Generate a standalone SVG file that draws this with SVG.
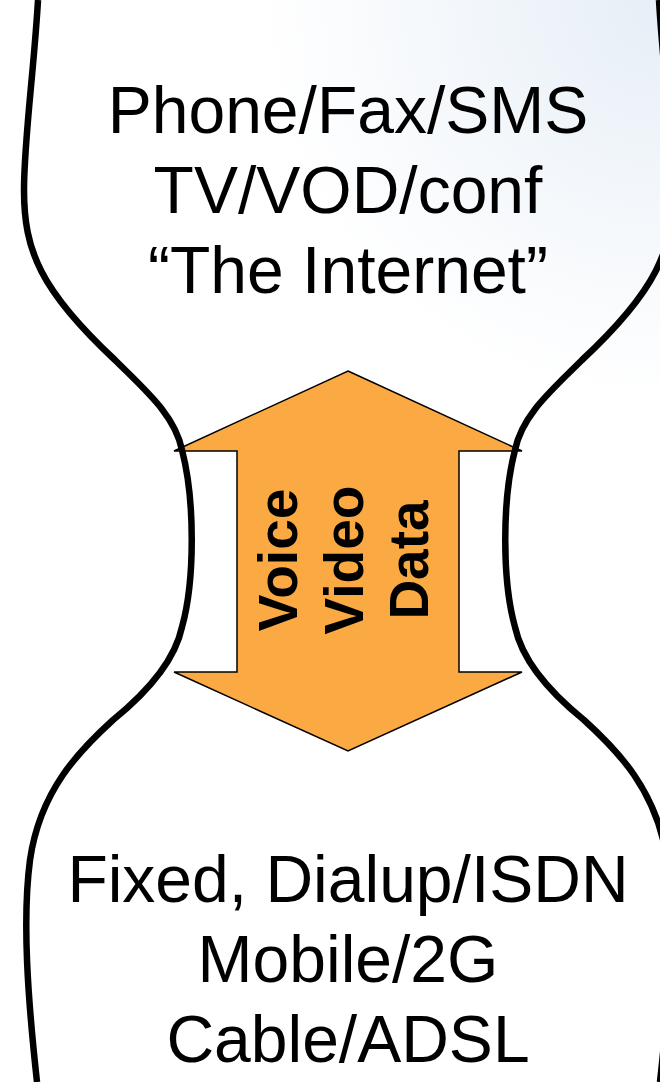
<svg xmlns="http://www.w3.org/2000/svg" width="660" height="1082" viewBox="0 0 660 1082">
<defs>
<radialGradient id="bg" cx="660" cy="0" r="400" gradientUnits="userSpaceOnUse">
<stop offset="0" stop-color="#E6EEF7"/>
<stop offset="0.5" stop-color="#F3F7FB"/>
<stop offset="1" stop-color="#FFFFFF"/>
</radialGradient>
</defs>
<style>
.lbl{font-family:"Liberation Sans",Arial,sans-serif;font-size:66px;fill:#000;text-anchor:middle}
.vl{font-family:"Liberation Sans",Arial,sans-serif;font-size:55px;font-weight:bold;fill:#000;text-anchor:middle}
.curve{fill:none;stroke:#000;stroke-width:6.5;stroke-linecap:butt}
.arrow{fill:#FBA943;stroke:#000;stroke-width:1.5;stroke-linejoin:miter}
</style>
<rect id="background" x="0" y="0" width="660" height="1082" fill="url(#bg)"/>
<g id="arrow">
<polygon class="arrow" points="348,371 522,451 459,451 459,672 522,672 348,751 174,672 237,672 237,451 174,451"/>
<text class="vl" transform="translate(297,560) rotate(-90)">Voice</text>
<text class="vl" transform="translate(363,560) rotate(-90)">Video</text>
<text class="vl" transform="translate(428,560) rotate(-90)">Data</text>
</g>
<g id="connectors">
<path id="left-curve" class="curve" d="M38,0 C34,70 24,140 24,190 C24,250 40,290 115,360 C145,390 175,415 182,450 C195,500 195,580 182,627 C175,660 150,690 113,720 C80,750 40,790 30,860 C22,920 28,1000 37,1082"/>
<path id="right-curve" class="curve" transform="translate(697,0) scale(-1,1)" d="M38,0 C34,70 24,140 24,190 C24,250 40,290 115,360 C145,390 175,415 182,450 C195,500 195,580 182,627 C175,660 150,690 113,720 C80,750 40,790 30,860 C22,920 28,1000 37,1082"/>
</g>
<g id="top-node">
<text class="lbl" x="348" y="133">Phone/Fax/SMS</text>
<text class="lbl" x="348" y="213">TV/VOD/conf</text>
<text class="lbl" x="348" y="293">“The Internet”</text>
</g>
<g id="bottom-node">
<text class="lbl" x="348" y="902">Fixed, Dialup/ISDN</text>
<text class="lbl" x="348" y="982">Mobile/2G</text>
<text class="lbl" x="348" y="1062">Cable/ADSL</text>
</g>
</svg>
